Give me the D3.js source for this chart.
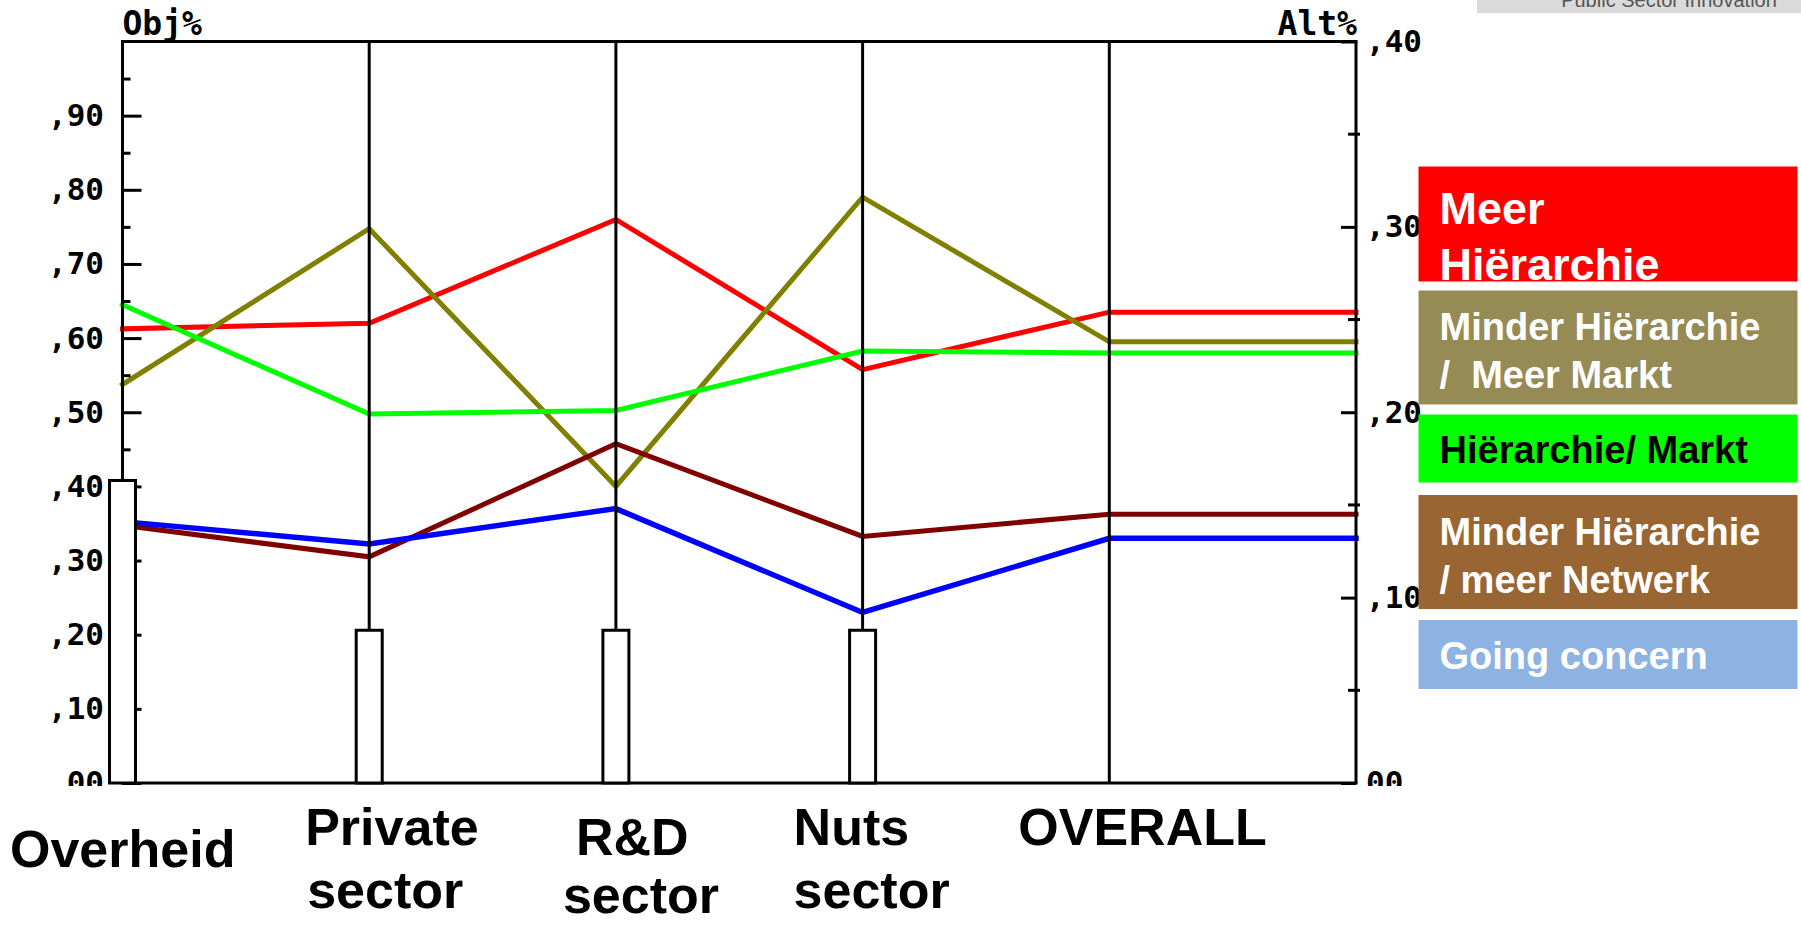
<!DOCTYPE html>
<html>
<head>
<meta charset="utf-8">
<script src="https://cdn.jsdelivr.net/npm/d3@7"></script>
<style>
  html, body { margin: 0; padding: 0; background: #fff; }
  svg { display: block; }
</style>
</head>
<body>
<div id="chart"></div>
<script>
// categories on the x axis (last point of each line continues OVERALL to the right axis)
const categories = ['Overheid', 'Private sector', 'R&D sector', 'Nuts sector', 'OVERALL'];

// Obj% bars (left axis, 0..1), OVERALL has no bar
const objShare = [0.408, 0.206, 0.206, 0.206, null];

// Alt% lines (right axis, 0..0.40)
const meerHierarchie = [0.245, 0.248, 0.304, 0.223, 0.254];
const minderHierMeerMarkt = [0.215, 0.299, 0.160, 0.316, 0.238];
const hierarchieMarkt = [0.258, 0.199, 0.201, 0.233, 0.232];
const minderHierNetwerk = [0.139, 0.122, 0.183, 0.133, 0.145];
const goingConcern = [0.141, 0.129, 0.148, 0.092, 0.132];

const lineColors = ['#ff0000', '#808000', '#00ff00', '#800000', '#0000ff'];

// legend boxes
const legendLabels = [
  ['Meer', 'Hiërarchie'],
  ['Minder Hiërarchie', '/  Meer Markt'],
  ['Hiërarchie/ Markt'],
  ['Minder Hiërarchie', '/ meer Netwerk'],
  ['Going concern']
];
const legendFills = ['#ff0000', '#978b55', '#00ff00', '#996633', '#8db3e2'];
const legendText = ['#ffffff', '#ffffff', '#000000', '#ffffff', '#ffffff'];

// tick labels
const leftTickValues = [0, 0.1, 0.2, 0.3, 0.4, 0.5, 0.6, 0.7, 0.8, 0.9];
const leftTickLabels = ['00', ',10', ',20', ',30', ',40', ',50', ',60', ',70', ',80', ',90'];
const rightTickValues = [0, 0.1, 0.2, 0.3, 0.4];
const rightTickLabels = ['00', ',10', ',20', ',30', ',40'];

const W = 1801, H = 926;
const pixFont = '"DejaVu Sans Mono", "Liberation Mono", monospace';
const sansFont = '"Liberation Sans", Arial, sans-serif';

const svg = d3.select('#chart')
  .append('svg')
  .attr('width', W)
  .attr('height', H);

// Setup scales
const x = d3.scaleLinear().domain([0, 5]).range([122.5, 1356]);
const yObj = d3.scaleLinear().domain([0, 1]).range([783, 41.5]);
const yAlt = d3.scaleLinear().domain([0, 0.4]).range([783, 41.5]);

// tick labels are cut off just under the bottom line, like the original
svg.append('defs')
  .append('clipPath')
  .attr('id', 'labelclip')
  .append('rect')
  .attr('x', 0)
  .attr('y', 0)
  .attr('width', W)
  .attr('height', 786);

// series lines
const series = [meerHierarchie, minderHierMeerMarkt, hierarchieMarkt, minderHierNetwerk, goingConcern];
const line = d3.line()
  .x((d, i) => x(i))
  .y(d => yAlt(d));

series.forEach((vals, k) => {
  const pts = vals.concat([vals[vals.length - 1]]);
  svg.append('path')
    .datum(pts)
    .attr('d', line)
    .attr('fill', 'none')
    .attr('stroke', lineColors[k])
    .attr('stroke-width', k === 4 ? 5.5 : 5)
    .attr('stroke-linecap', 'square');
});

// frame + category lines
const frame = svg.append('g')
  .attr('stroke', '#000')
  .attr('stroke-width', 3);

frame.selectAll('line.v')
  .data(d3.range(6))
  .enter()
  .append('line')
  .attr('class', 'v')
  .attr('x1', d => x(d))
  .attr('x2', d => x(d))
  .attr('y1', yObj(1))
  .attr('y2', yObj(0));

frame.append('line')
  .attr('x1', x(0) - 1.5).attr('x2', x(5) + 1.5)
  .attr('y1', yObj(1)).attr('y2', yObj(1));
frame.append('line')
  .attr('x1', x(0) - 1.5).attr('x2', x(5) + 1.5)
  .attr('y1', yObj(0)).attr('y2', yObj(0));

const labels = svg.append('g').attr('clip-path', 'url(#labelclip)');

// left axis (Obj%)
const leftAxis = labels.append('g')
  .attr('transform', 'translate(' + x(0) + ',0)')
  .call(d3.axisLeft(yObj)
    .tickValues(leftTickValues)
    .tickSizeInner(-19)
    .tickSizeOuter(0)
    .tickPadding(18.5)
    .tickFormat((d, i) => leftTickLabels[i]));
leftAxis.select('.domain').remove();
leftAxis.selectAll('line').attr('stroke-width', 3).attr('stroke', '#000');
leftAxis.selectAll('text')
  .attr('fill', '#000')
  .style('font-family', pixFont)
  .style('font-weight', 'bold')
  .style('font-size', '31px');

// minor ticks left
svg.append('g')
  .attr('transform', 'translate(' + x(0) + ',0)')
  .call(d3.axisLeft(yObj)
    .tickValues([0.05, 0.15, 0.25, 0.35, 0.45, 0.55, 0.65, 0.75, 0.85, 0.95])
    .tickSizeInner(-8)
    .tickSizeOuter(0)
    .tickFormat(''))
  .call(g => g.select('.domain').remove())
  .selectAll('line').attr('stroke-width', 3).attr('stroke', '#000');

// right axis (Alt%)
const rightAxis = labels.append('g')
  .attr('transform', 'translate(' + x(5) + ',0)')
  .call(d3.axisRight(yAlt)
    .tickValues(rightTickValues)
    .tickSizeInner(-15)
    .tickSizeOuter(0)
    .tickPadding(10)
    .tickFormat((d, i) => rightTickLabels[i]));
rightAxis.select('.domain').remove();
rightAxis.selectAll('line').attr('stroke-width', 3).attr('stroke', '#000');
rightAxis.selectAll('text')
  .attr('fill', '#000')
  .style('font-family', pixFont)
  .style('font-weight', 'bold')
  .style('font-size', '31px');

// minor ticks right (cross the axis)
svg.append('g')
  .selectAll('line')
  .data([0.05, 0.15, 0.25, 0.35])
  .enter()
  .append('line')
  .attr('x1', x(5) - 8)
  .attr('x2', x(5) + 4)
  .attr('y1', d => yAlt(d))
  .attr('y2', d => yAlt(d))
  .attr('stroke', '#000')
  .attr('stroke-width', 3);

// axis titles
svg.append('text')
  .attr('x', x(0))
  .attr('y', 35)
  .style('font-family', pixFont)
  .style('font-weight', 'bold')
  .style('font-size', '33px')
  .text('Obj%');
svg.append('text')
  .attr('x', x(5) + 1)
  .attr('y', 35)
  .attr('text-anchor', 'end')
  .style('font-family', pixFont)
  .style('font-weight', 'bold')
  .style('font-size', '33px')
  .text('Alt%');

// Obj% bars on top
const barW = 26;
svg.append('g')
  .selectAll('rect')
  .data(objShare.map((v, i) => ({ v, i })).filter(d => d.v !== null))
  .enter()
  .append('rect')
  .attr('x', d => x(d.i) - barW / 2)
  .attr('y', d => yObj(d.v))
  .attr('width', barW)
  .attr('height', d => yObj(0) - yObj(d.v))
  .attr('fill', '#fff')
  .attr('stroke', '#000')
  .attr('stroke-width', 3);

// category labels (text boxes, placed relative to their line)
const labelLayout = [
  { dx: [-112.5], y: [867] },
  { dx: [-64, -62], y: [845, 908] },
  { dx: [-40, -53], y: [855, 913] },
  { dx: [-69, -69], y: [845, 908] },
  { dx: [-91], y: [845] }
];
categories.forEach((c, i) => {
  const parts = c.split(' ');
  parts.forEach((p, j) => {
    svg.append('text')
      .attr('x', x(i) + labelLayout[i].dx[j])
      .attr('y', labelLayout[i].y[j])
      .style('font-family', sansFont)
      .style('font-weight', 'bold')
      .style('font-size', '52px')
      .attr('fill', '#000')
      .text(p);
  });
});

// legend
const legLayout = [
  { y: 166.5, h: 115, size: 45, base: [224, 280] },
  { y: 290.5, h: 114, size: 38, base: [340, 388] },
  { y: 414.5, h: 68, size: 38, base: [463] },
  { y: 495, h: 114, size: 38, base: [545, 593] },
  { y: 620, h: 69, size: 38, base: [669] }
];
const legX = 1418.5, legW = 379;
const legend = svg.append('g');
legendLabels.forEach((lines, i) => {
  const L = legLayout[i];
  legend.append('clipPath')
    .attr('id', 'leg' + i)
    .append('rect')
    .attr('x', legX).attr('y', L.y).attr('width', legW).attr('height', L.h);
  legend.append('rect')
    .attr('x', legX)
    .attr('y', L.y)
    .attr('width', legW)
    .attr('height', L.h)
    .attr('fill', legendFills[i]);
  lines.forEach((t, j) => {
    legend.append('text')
      .attr('clip-path', 'url(#leg' + i + ')')
      .attr('x', legX + 21)
      .attr('y', L.base[j])
      .style('font-family', sansFont)
      .style('font-weight', 'bold')
      .style('font-size', L.size + 'px')
      .style('white-space', 'pre')
      .attr('fill', legendText[i])
      .text(t);
  });
});

// top right caption strip
svg.append('rect')
  .attr('x', 1477)
  .attr('y', 0)
  .attr('width', W - 1477)
  .attr('height', 13)
  .attr('fill', '#dadada');
svg.append('text')
  .attr('x', 1669)
  .attr('y', 7)
  .attr('text-anchor', 'middle')
  .style('font-family', sansFont)
  .style('font-size', '20px')
  .attr('fill', '#555')
  .text('Public Sector Innovation');
</script>
</body>
</html>
